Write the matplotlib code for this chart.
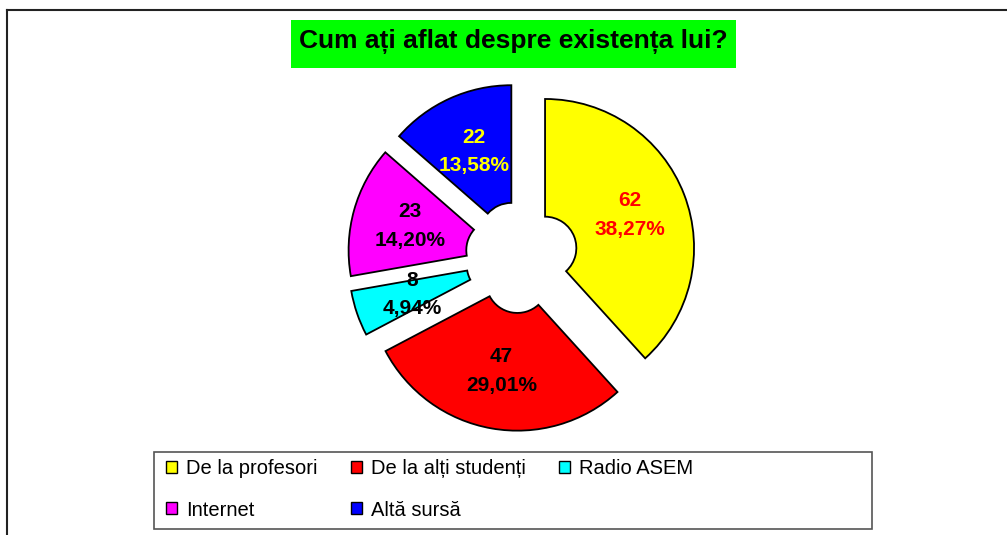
import matplotlib
matplotlib.use("Agg")
import matplotlib.pyplot as plt
from matplotlib.patches import Rectangle
from matplotlib.lines import Line2D

# ---- data ----
categories = ["De la profesori", "De la alți studenți", "Radio ASEM", "Internet", "Altă sursă"]
values = [62, 47, 8, 23, 22]
colors = ["#FFFF00", "#FF0000", "#00FFFF", "#FF00FF", "#0000FF"]
label_colors = ["#FF0000", "#000000", "#000000", "#000000", "#FFFF00"]
title = "Cum ați aflat despre existența lui?"

W, H = 1007, 535
fig = plt.figure(figsize=(W / 100, H / 100), dpi=100)
fig.patch.set_facecolor("white")

def fx(px):
    return px / W

def fy(py):
    return 1 - py / H

# outer chart border (left and top)
fig.add_artist(Line2D([fx(7), fx(7)], [fy(10), 0], color="#222222", lw=1.5))
fig.add_artist(Line2D([fx(7), 1], [fy(10), fy(10)], color="#222222", lw=1.5))

# title box
fig.add_artist(Rectangle((fx(291), fy(68)), fx(736) - fx(291), fy(20) - fy(68),
                         facecolor="#00FF00", edgecolor="none"))
fig.text(fx(513.5), fy(48.5), title, ha="center", va="baseline",
         fontsize=19, fontweight="bold", family=["Liberation Sans", "DejaVu Sans"])

# pie
ax = fig.add_axes([0, 0, 1, 1])
total = sum(values)
cx, cy, R = 521.7, 257.0, 149.0

def fmt(p):
    v = int(round(p * total / 100.0))
    return f"{v}\n{p:.2f}%".replace(".", ",")

wedges, texts, autotexts = ax.pie(
    values, colors=colors, startangle=90, counterclock=False,
    explode=[0.168] * len(values), radius=1.0, center=(0, 0),
    autopct=fmt, pctdistance=0.61,
    wedgeprops=dict(width=0.79, edgecolor="black", linewidth=1.3),
    textprops=dict(fontsize=15, fontweight="bold", family=["Liberation Sans", "DejaVu Sans"],
                   linespacing=1.65),
)
for t, c in zip(autotexts, label_colors):
    t.set_color(c)

ax.set_xlim((0 - cx) / R, (W - cx) / R)
ax.set_ylim((cy - H) / R, cy / R)
ax.set_aspect("auto")
ax.axis("off")

# legend frame
fig.add_artist(Rectangle((fx(154), fy(529)), fx(872) - fx(154), fy(452) - fy(529),
                         facecolor="none", edgecolor="#555555", lw=1.2))
order = [0, 3, 1, 4, 2]
leg = fig.legend([wedges[i] for i in order], [categories[i] for i in order],
                 ncol=3, loc="upper left", bbox_to_anchor=(fx(166), fy(459)),
                 frameon=False, borderpad=0, borderaxespad=0,
                 handlelength=0.55, handleheight=0.55, handletextpad=0.45,
                 columnspacing=1.65, labelspacing=1.12,
                 prop=dict(family=["Liberation Sans", "DejaVu Sans"], size=14.5))
for h in leg.legend_handles:
    h.set_linewidth(1.0)
    h.set_edgecolor("black")

fig.savefig("out.png", dpi=100)
